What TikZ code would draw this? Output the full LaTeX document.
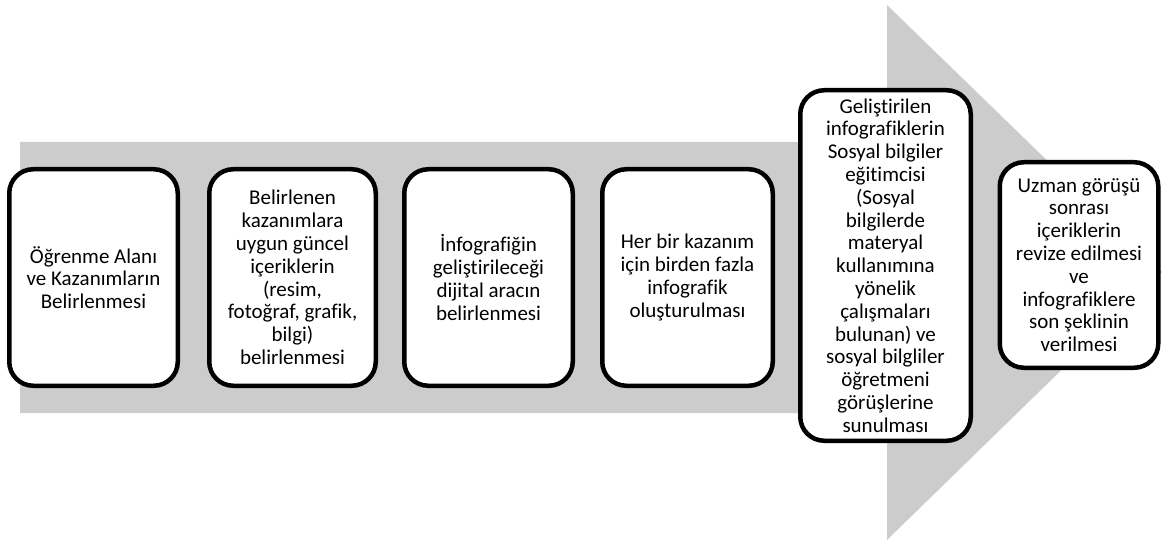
\documentclass[tikz,border=0pt]{standalone}
\usepackage{fontspec}
\setmainfont{Carlito}[Ligatures=NoCommon]
\begin{document}
\begin{tikzpicture}[x=1pt,y=-1pt,
  stepbox/.style={draw=black, line width=4.5pt, fill=white, rounded corners=24pt,
    align=center, font=\fontsize{21}{22.8}\selectfont, inner sep=0pt}]
\useasboundingbox (0,0) rectangle (1162,545);
% big grey process arrow
\fill[gray!40] (20,142) -- (887,142) -- (887,5) -- (1162,272) -- (887,540)
  -- (887,413) -- (20,413) -- cycle;
% steps
\node[stepbox, minimum width=168.5pt, minimum height=216.5pt] (s1) at (93.5,277.5)
  {Öğrenme Alanı\\ve Kazanımların\\Belirlenmesi};
\node[stepbox, minimum width=166.5pt, minimum height=216.5pt] (s2) at (292.5,277.5)
  {Belirlenen\\kazanımlara\\uygun güncel\\içeriklerin\\(resim,\\fotoğraf, grafik,\\bilgi)\\belirlenmesi};
\node[stepbox, minimum width=168.5pt, minimum height=216.5pt] (s3) at (488.5,277.5)
  {İnfografiğin\\geliştirileceği\\dijital aracın\\belirlenmesi};
\node[stepbox, minimum width=170.5pt, minimum height=216.5pt] (s4) at (687.5,277.5)
  {Her bir kazanım\\için birden fazla\\infografik\\oluşturulması};
\node[stepbox, minimum width=170.5pt, minimum height=350.5pt] (s5) at (885.5,265.5)
  {Geliştirilen\\infografiklerin\\Sosyal bilgiler\\eğitimcisi\\(Sosyal\\bilgilerde\\materyal\\kullanımına\\yönelik\\çalışmaları\\bulunan) ve\\sosyal bilgliler\\öğretmeni\\görüşlerine\\sunulması};
\node[stepbox, minimum width=158.5pt, minimum height=205.5pt] (s6) at (1079,265)
  {Uzman görüşü\\sonrası\\içeriklerin\\revize edilmesi\\ve\\infografiklere\\son şeklinin\\verilmesi};
\end{tikzpicture}
\end{document}
